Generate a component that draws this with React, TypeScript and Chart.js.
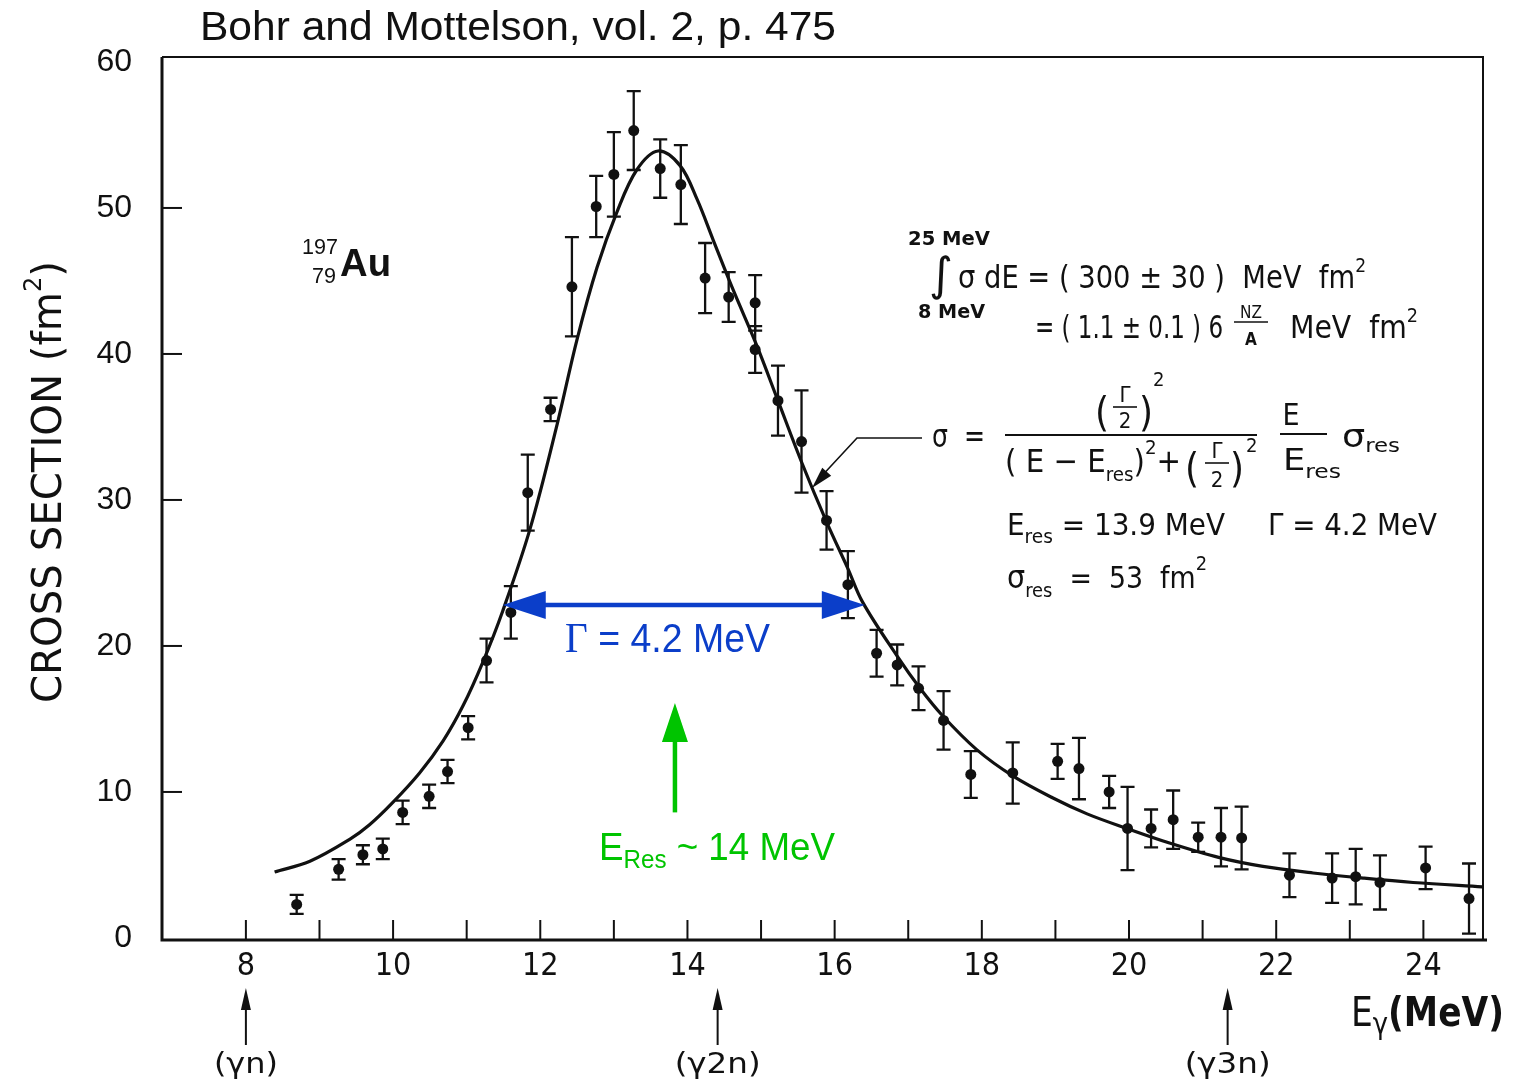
import React, { useEffect, useRef } from "react";
import { Chart, registerables } from "chart.js";

Chart.register(...registerables);

// ---------- data ----------
const energies = [
  8.69, 9.26, 9.59, 9.86, 10.13, 10.49, 10.74, 11.02, 11.27, 11.6, 11.83, 12.14,
  12.43, 12.76, 13.0, 13.27, 13.63, 13.91, 14.24, 14.56, 14.92, 14.92, 15.23,
  15.55, 15.89, 16.18, 16.57, 16.85, 17.14, 17.48, 17.85, 18.42, 19.03, 19.32,
  19.73, 19.98, 20.3, 20.6, 20.94, 21.25, 21.53, 22.18, 22.76, 23.08, 23.41,
  24.03, 24.62,
];
const crossSections = [
  2.3, 4.7, 5.7, 6.1, 8.6, 9.7, 11.4, 14.4, 19.0, 22.3, 30.5, 36.2, 44.6, 50.1,
  52.3, 55.3, 52.7, 51.6, 45.2, 43.9, 43.5, 40.3, 36.8, 34.0, 28.6, 24.2, 19.5,
  18.7, 17.1, 14.9, 11.2, 11.3, 12.1, 11.6, 10.0, 7.5, 7.5, 8.1, 6.9, 6.9, 6.85,
  4.3, 4.1, 4.2, 3.8, 4.8, 2.7,
];
const errors = [
  0.65, 0.7, 0.65, 0.7, 0.8, 0.8, 0.8, 0.8, 1.5, 1.8, 2.6, 0.8, 3.4, 2.1, 2.9,
  2.7, 2.0, 2.7, 2.4, 1.7, 1.9, 1.6, 2.4, 3.5, 2.0, 2.3, 1.6, 1.4, 1.5, 2.0, 1.6,
  2.1, 1.2, 2.1, 1.1, 2.85, 1.3, 2.0, 1.0, 2.0, 2.15, 1.5, 1.7, 1.9, 1.85, 1.45,
  2.4,
];
const curveEnergies = [
  8.39, 8.87, 9.41, 9.68, 10.0, 10.36, 10.68, 10.95, 11.22, 11.49, 11.86, 12.23,
  12.5, 12.77, 13.04, 13.31, 13.6, 13.9, 14.13, 14.35, 14.62, 14.94, 15.23,
  15.55, 15.89, 16.18, 16.38, 16.85, 17.16, 17.47, 17.93, 18.42, 18.96, 19.43,
  19.97, 20.55, 21.23, 21.82, 22.5, 23.18, 23.86, 24.8,
];
const curveSigma = [
  4.52, 5.25, 6.75, 7.75, 9.3, 11.3, 13.5, 15.9, 18.9, 22.4, 28.0, 35.2, 41.0,
  45.9, 49.7, 52.6, 53.9, 52.9, 50.6, 47.8, 44.4, 40.6, 36.8, 32.6, 28.5, 25.3,
  23.0, 19.3, 17.1, 15.2, 12.9, 11.1, 9.6, 8.5, 7.5, 6.5, 5.5, 4.9, 4.45, 4.1,
  3.8, 3.5,
];
const yTickValues = [0, 10, 20, 30, 40, 50, 60];
const yInnerTicks = [10, 20, 30, 40, 50];
const xTickLabels = [8, 10, 12, 14, 16, 18, 20, 22, 24];
const xMinorTicks = [8, 9, 10, 11, 12, 13, 14, 15, 16, 17, 18, 19, 20, 21, 22, 23, 24];
const thresholdEnergies = [8.0, 14.41, 21.34];
const thresholdLabels = ["(γn)", "(γ2n)", "(γ3n)"];
const widthArrowEnds = [11.49, 16.41];
const widthArrowLevel = 22.8;
const resonanceArrowE = 13.83;
const resonanceArrowRange = [8.6, 16.1];

// ---------- styles ----------
const SANS = "'Liberation Sans', Arial, sans-serif";
const SERIF = "'Liberation Serif', 'Times New Roman', serif";
const COND = "'DejaVu Sans Condensed', 'Liberation Sans Narrow', 'DejaVu Sans', sans-serif";
const INK = "#111";
const BLUE = "#0b3ec9";
const GREEN = "#00c400";

type Run = { t: string; size: number; weight?: string; family?: string; dy?: number; color?: string };

function drawRuns(
  ctx: CanvasRenderingContext2D,
  runs: Run[],
  x: number,
  y: number,
  opts: { width?: number; align?: "left" | "center" | "right"; color?: string } = {}
) {
  const widths: number[] = [];
  let total = 0;
  for (const r of runs) {
    ctx.font = `${r.weight || "normal"} ${r.size}px ${r.family || COND}`;
    const w = ctx.measureText(r.t).width;
    widths.push(w);
    total += w;
  }
  const s = opts.width ? opts.width / total : 1;
  const shown = total * s;
  const startX = opts.align === "center" ? x - shown / 2 : opts.align === "right" ? x - shown : x;
  ctx.save();
  ctx.translate(startX, y);
  ctx.scale(s, 1);
  ctx.textBaseline = "alphabetic";
  ctx.textAlign = "left";
  let cx = 0;
  runs.forEach((r, i) => {
    ctx.font = `${r.weight || "normal"} ${r.size}px ${r.family || COND}`;
    ctx.fillStyle = r.color || opts.color || INK;
    ctx.fillText(r.t, cx, r.dy || 0);
    cx += widths[i];
  });
  ctx.restore();
}

function line(ctx: CanvasRenderingContext2D, pts: number[][], w: number, color = INK) {
  ctx.save();
  ctx.strokeStyle = color;
  ctx.lineWidth = w;
  ctx.lineCap = "butt";
  ctx.beginPath();
  ctx.moveTo(pts[0][0], pts[0][1]);
  for (let i = 1; i < pts.length; i++) ctx.lineTo(pts[i][0], pts[i][1]);
  ctx.stroke();
  ctx.restore();
}

function head(ctx: CanvasRenderingContext2D, tipX: number, tipY: number, fromX: number, fromY: number, len: number, half: number, color: string) {
  const a = Math.atan2(tipY - fromY, tipX - fromX);
  const bx = tipX - len * Math.cos(a);
  const by = tipY - len * Math.sin(a);
  const nx = -Math.sin(a);
  const ny = Math.cos(a);
  ctx.save();
  ctx.fillStyle = color;
  ctx.beginPath();
  ctx.moveTo(tipX, tipY);
  ctx.lineTo(bx + nx * half, by + ny * half);
  ctx.lineTo(bx - nx * half, by - ny * half);
  ctx.closePath();
  ctx.fill();
  ctx.restore();
}

const decorations = {
  id: "decorations",
  beforeDatasetsDraw(chart: any) {
    const { ctx, scales } = chart;
    const x = scales.x;
    const y = scales.y;
    ctx.save();
    ctx.strokeStyle = INK;
    ctx.lineWidth = 2.3;
    energies.forEach((e, i) => {
      const px = x.getPixelForValue(e);
      const top = y.getPixelForValue(crossSections[i] + errors[i]);
      const bot = y.getPixelForValue(crossSections[i] - errors[i]);
      ctx.beginPath();
      ctx.moveTo(px, top);
      ctx.lineTo(px, bot);
      ctx.moveTo(px - 7, top);
      ctx.lineTo(px + 7, top);
      ctx.moveTo(px - 7, bot);
      ctx.lineTo(px + 7, bot);
      ctx.stroke();
    });
    ctx.restore();
  },
  afterDraw(chart: any) {
    const { ctx, chartArea: ca, scales } = chart;
    const x = scales.x;
    const y = scales.y;

    // frame
    line(ctx, [[ca.left, ca.top], [ca.left, ca.bottom], [ca.right + 4, ca.bottom]], 3);
    line(ctx, [[ca.left, ca.top], [ca.right, ca.top], [ca.right, ca.bottom]], 2);
    // inward ticks
    yInnerTicks.forEach((v) => {
      const py = y.getPixelForValue(v);
      line(ctx, [[ca.left, py], [ca.left + 20, py]], 2);
    });
    xMinorTicks.forEach((v) => {
      const px = x.getPixelForValue(v);
      line(ctx, [[px, ca.bottom], [px, ca.bottom - 20]], 2);
    });

    // title
    drawRuns(ctx, [{ t: "Bohr and Mottelson, vol. 2, p. 475", size: 41, family: SANS }], 200, 40, { width: 636 });

    // y axis title (rotated)
    ctx.save();
    ctx.translate(61, 703);
    ctx.rotate(-Math.PI / 2);
    drawRuns(
      ctx,
      [
        { t: "CROSS SECTION (fm", size: 40 },
        { t: "2", size: 24, dy: -20 },
        { t: ")", size: 40 },
      ],
      0,
      0,
      { width: 442 }
    );
    ctx.restore();

    // nucleus label
    drawRuns(ctx, [{ t: "197", size: 22, family: SANS }], 302, 254, { width: 36 });
    drawRuns(ctx, [{ t: "79", size: 22, family: SANS }], 312, 283, { width: 24 });
    drawRuns(ctx, [{ t: "Au", size: 38, family: SANS, weight: "bold" }], 340, 276, { width: 51 });

    // integral formula
    drawRuns(ctx, [{ t: "25 MeV", size: 19, weight: "bold" }], 908, 245, { width: 82 });
    drawRuns(ctx, [{ t: "∫", size: 46, family: "'DejaVu Sans', sans-serif" }], 929, 290, {});
    drawRuns(
      ctx,
      [
        { t: "σ dE ", size: 32 },
        { t: "= ( 300 ± 30 )  MeV  fm", size: 32 },
        { t: "2", size: 20, dy: -16 },
      ],
      958,
      288,
      { width: 408 }
    );
    drawRuns(ctx, [{ t: "8 MeV", size: 19, weight: "bold" }], 918, 318, { width: 67 });
    drawRuns(ctx, [{ t: "= ( 1.1 ± 0.1 ) 6", size: 32 }], 1035, 338, { width: 188 });
    drawRuns(ctx, [{ t: "NZ", size: 17 }], 1251, 318, { align: "center" });
    line(ctx, [[1234, 322], [1268, 322]], 1.6);
    drawRuns(ctx, [{ t: "A", size: 17, weight: "bold" }], 1251, 345, { align: "center" });
    drawRuns(ctx, [{ t: "MeV  fm", size: 32 }, { t: "2", size: 20, dy: -16 }], 1290, 338, { width: 128 });

    // Lorentzian formula
    drawRuns(ctx, [{ t: "σ  =", size: 32 }], 932, 447, { width: 53 });
    drawRuns(ctx, [{ t: "(", size: 40 }], 1095, 426, {});
    drawRuns(ctx, [{ t: "Γ", size: 22 }], 1125, 402, { align: "center" });
    line(ctx, [[1113, 407], [1137, 407]], 1.6);
    drawRuns(ctx, [{ t: "2", size: 22 }], 1125, 428, { align: "center" });
    drawRuns(ctx, [{ t: ")", size: 40 }], 1139, 426, {});
    drawRuns(ctx, [{ t: "2", size: 20 }], 1153, 386, {});
    line(ctx, [[1005, 435], [1257, 435]], 2);
    drawRuns(
      ctx,
      [
        { t: "( E − E", size: 32 },
        { t: "res", size: 20, dy: 9 },
        { t: ")", size: 32 },
        { t: "2", size: 20, dy: -18 },
        { t: "+", size: 32 },
      ],
      1005,
      472,
      { width: 176 }
    );
    drawRuns(ctx, [{ t: "(", size: 40 }], 1185, 482, {});
    drawRuns(ctx, [{ t: "Γ", size: 22 }], 1217, 458, { align: "center" });
    line(ctx, [[1205, 463], [1229, 463]], 1.6);
    drawRuns(ctx, [{ t: "2", size: 22 }], 1217, 487, { align: "center" });
    drawRuns(ctx, [{ t: ")", size: 40 }], 1230, 482, {});
    drawRuns(ctx, [{ t: "2", size: 20 }], 1246, 452, {});
    drawRuns(ctx, [{ t: "E", size: 30 }], 1291, 425, { align: "center" });
    line(ctx, [[1280, 434], [1327, 434]], 2);
    drawRuns(ctx, [{ t: "E", size: 30 }, { t: "res", size: 20, dy: 8 }], 1283, 470, { width: 58 });
    drawRuns(ctx, [{ t: "σ", size: 32 }, { t: "res", size: 20, dy: 5 }], 1342, 447, { width: 58 });
    drawRuns(
      ctx,
      [{ t: "E", size: 30 }, { t: "res", size: 20, dy: 8 }, { t: " = 13.9 MeV", size: 30 }],
      1007,
      535,
      { width: 218 }
    );
    drawRuns(ctx, [{ t: "Γ", size: 30 }, { t: " = 4.2 MeV", size: 30 }], 1268, 535, { width: 169 });
    drawRuns(
      ctx,
      [
        { t: "σ", size: 32 },
        { t: "res", size: 20, dy: 9 },
        { t: "  =  53  fm", size: 30 },
        { t: "2", size: 20, dy: -18 },
      ],
      1007,
      588,
      { width: 200 }
    );
    line(ctx, [[922, 438], [857, 438], [818, 480]], 1.6);
    head(ctx, 812, 488, 857, 438, 22, 6, INK);

    // FWHM arrow (blue)
    const ay = y.getPixelForValue(widthArrowLevel);
    const ax0 = x.getPixelForValue(widthArrowEnds[0]);
    const ax1 = x.getPixelForValue(widthArrowEnds[1]);
    line(ctx, [[ax0 + 30, ay], [ax1 - 30, ay]], 4.5, BLUE);
    head(ctx, ax0, ay, ax1, ay, 43, 14, BLUE);
    head(ctx, ax1, ay, ax0, ay, 43, 14, BLUE);
    drawRuns(
      ctx,
      [
        { t: "Γ", size: 42, family: SERIF, color: BLUE },
        { t: " = 4.2 MeV", size: 40, family: SANS, color: BLUE },
      ],
      565,
      652,
      { width: 205 }
    );

    // resonance arrow (green)
    const gx = x.getPixelForValue(resonanceArrowE);
    const gy0 = y.getPixelForValue(resonanceArrowRange[0]);
    const gy1 = y.getPixelForValue(resonanceArrowRange[1]);
    line(ctx, [[gx, gy0], [gx, gy1 + 30]], 4.5, GREEN);
    head(ctx, gx, gy1, gx, gy0, 39, 13, GREEN);
    drawRuns(
      ctx,
      [
        { t: "E", size: 38, family: SANS, color: GREEN },
        { t: "Res", size: 25, family: SANS, color: GREEN, dy: 8 },
        { t: " ~ 14 MeV", size: 38, family: SANS, color: GREEN },
      ],
      599,
      860,
      { width: 236 }
    );

    // threshold arrows
    thresholdEnergies.forEach((e, i) => {
      const px = x.getPixelForValue(e);
      line(ctx, [[px, 1045], [px, 1005]], 2);
      head(ctx, px, 988, px, 1045, 22, 5, INK);
      drawRuns(ctx, [{ t: thresholdLabels[i], size: 28 }], px, 1073, { align: "center", width: i === 0 ? 64 : 86 });
    });

    // x axis title
    drawRuns(
      ctx,
      [
        { t: "E", size: 40 },
        { t: "γ", size: 30, dy: 8 },
        { t: "(MeV)", size: 40, weight: "bold" },
      ],
      1351,
      1026,
      { width: 153 }
    );
  },
};

export default function App() {
  const ref = useRef<HTMLCanvasElement>(null);
  useEffect(() => {
    const canvas = ref.current;
    if (!canvas) return;
    const chart = new Chart(canvas, {
      type: "scatter",
      data: {
        datasets: [
          {
            type: "line",
            label: "Lorentzian fit",
            data: curveEnergies.map((e, i) => ({ x: e, y: curveSigma[i] })),
            borderColor: INK,
            borderWidth: 3.2,
            pointRadius: 0,
            fill: false,
            tension: 0.35,
          } as any,
          {
            type: "scatter",
            label: "measured",
            data: energies.map((e, i) => ({ x: e, y: crossSections[i] })),
            backgroundColor: INK,
            borderColor: INK,
            borderWidth: 0,
            pointRadius: 5.5,
          },
        ],
      },
      options: {
        responsive: false,
        animation: false,
        devicePixelRatio: 1,
        layout: { padding: { left: 0, top: 57, right: 34, bottom: 0 } },
        plugins: { legend: { display: false }, tooltip: { enabled: false }, title: { display: false } },
        scales: {
          x: {
            type: "linear",
            min: 6.86,
            max: 24.81,
            grid: { display: false, drawTicks: false },
            border: { display: false },
            afterBuildTicks: (scale: any) => {
              scale.ticks = xTickLabels.map((v) => ({ value: v }));
            },
            afterFit: (scale: any) => {
              scale.height = 141;
            },
            ticks: {
              padding: 7,
              color: INK,
              maxRotation: 0,
              autoSkip: false,
              font: { family: COND, size: 32 },
              callback: (v: any) => String(v),
            },
          },
          y: {
            type: "linear",
            min: -0.14,
            max: 60.34,
            grid: { display: false, drawTicks: false },
            border: { display: false },
            afterBuildTicks: (scale: any) => {
              scale.ticks = yTickValues.map((v) => ({ value: v }));
            },
            afterFit: (scale: any) => {
              scale.width = 162;
            },
            ticks: {
              padding: 30,
              color: INK,
              autoSkip: false,
              font: { family: SANS, size: 32 },
              callback: (v: any) => String(v),
            },
          },
        },
      },
      plugins: [decorations],
    });
    return () => chart.destroy();
  }, []);
  return (
    <div style={{ position: "absolute", left: 0, top: 0, width: 1517, height: 1081, background: "#fff" }}>
      <canvas ref={ref} width={1517} height={1081} style={{ display: "block", width: 1517, height: 1081 }} />
    </div>
  );
}
